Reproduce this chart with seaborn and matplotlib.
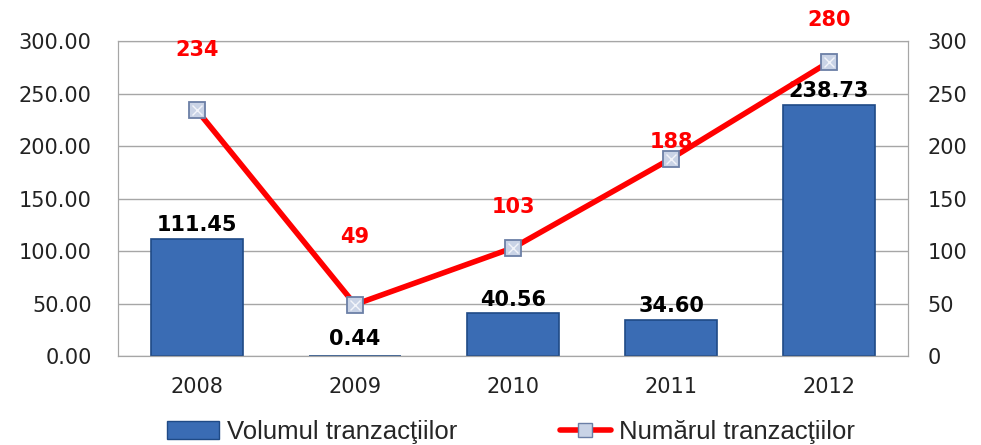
import matplotlib
matplotlib.use("Agg")
import matplotlib.pyplot as plt
import seaborn as sns
import pandas as pd
from matplotlib.lines import Line2D
from matplotlib.patches import Patch

# chart data
years = ["2008", "2009", "2010", "2011", "2012"]
volume = [111.45, 0.44, 40.56, 34.60, 238.73]
count = [234, 49, 103, 188, 280]
volume_labels = ["111.45", "0.44", "40.56", "34.60", "238.73"]

# where the red count labels sit (right-axis units, above each point)
count_label_y = [291, 113, 142, 204, 320]

df = pd.DataFrame({"year": years, "volume": volume, "count": count})

sns.set_style("white")
plt.rcParams["font.family"] = ["DejaVu Sans"]

fig = plt.figure(figsize=(9.81, 4.45), dpi=100)
ax = fig.add_axes([118 / 981, 1 - 356 / 445, 790 / 981, 315 / 445])

sns.barplot(data=df, x="year", y="volume", ax=ax, color="#3a6cb4",
            saturation=1, width=0.58, edgecolor="#1f4a86", linewidth=1.2,
            zorder=2)

ax.set_xlim(-0.5, 4.5)
ax.set_ylim(0, 300)
ax.set_yticks(range(0, 301, 50))
ax.set_yticklabels([f"{v:.2f}" for v in range(0, 301, 50)])
ax.yaxis.grid(True, color="#a6a6a6", linewidth=1, zorder=0)
ax.set_axisbelow(True)
ax.set_xlabel("")
ax.set_ylabel("")
ax.tick_params(axis="both", labelsize=15, colors="#222222", length=0)
ax.tick_params(axis="y", pad=19)
ax.tick_params(axis="x", pad=15)
for s in ax.spines.values():
    s.set_color("#a6a6a6")

for i, (v, lab) in enumerate(zip(volume, volume_labels)):
    off = 10 if v > 1 else 12
    ax.annotate(lab, (i, v), xytext=(0, off), textcoords="offset points",
                ha="center", va="center", fontsize=15, fontweight="bold",
                color="black", zorder=5)

ax2 = ax.twinx()
sns.lineplot(x=range(len(years)), y=count, ax=ax2, color="#ff0000",
             linewidth=4, zorder=3)
ax2.plot(range(len(years)), count, linestyle="none", marker="s",
         markersize=11, markerfacecolor="#c9d3e6", markeredgecolor="#6b7fa6",
         markeredgewidth=1.3, zorder=4)
ax2.plot(range(len(years)), count, linestyle="none", marker="x",
         markersize=7, markeredgecolor="#f2f4fa", markeredgewidth=1, zorder=5)
ax2.set_ylim(0, 300)
ax2.set_yticks(range(0, 301, 50))
ax2.tick_params(axis="y", labelsize=15, colors="#222222", length=0, pad=14)
ax2.grid(False)
for s in ax2.spines.values():
    s.set_color("#a6a6a6")

for i, (c, ly) in enumerate(zip(count, count_label_y)):
    ax2.text(i, ly, str(c), ha="center", va="center", fontsize=15,
             fontweight="bold", color="#ff0000", clip_on=False, zorder=6)

handles = [
    Patch(facecolor="#3a6cb4", edgecolor="#1f4a86"),
    Line2D([0], [0], color="#ff0000", linewidth=4, marker="s", markersize=10,
           markerfacecolor="#c9d3e6", markeredgecolor="#6b7fa6"),
]
fig.legend(handles, ["Volumul tranzacţiilor", "Numărul tranzacţiilor"],
           loc="center", bbox_to_anchor=(511 / 981, 1 - 432 / 445), ncol=2,
           frameon=False, handlelength=2.0, columnspacing=4.0,
           handletextpad=0.3, prop={"family": "Liberation Sans", "size": 18.5})

fig.savefig("out.png", dpi=100)
